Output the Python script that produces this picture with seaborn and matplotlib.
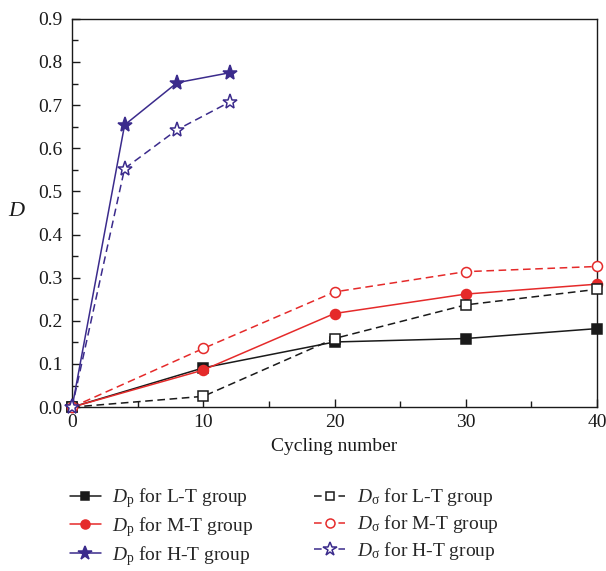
import matplotlib
matplotlib.use("Agg")
import matplotlib.pyplot as plt
import seaborn as sns
import pandas as pd
from matplotlib.ticker import MultipleLocator

# ---- data ----
x_LT = [0, 10, 20, 30, 40]
dp_LT = [0.0, 0.091, 0.151, 0.159, 0.182]
ds_LT = [0.0, 0.025, 0.159, 0.237, 0.273]
x_MT = [0, 10, 20, 30, 40]
dp_MT = [0.0, 0.086, 0.217, 0.262, 0.285]
ds_MT = [0.0, 0.136, 0.267, 0.314, 0.326]
x_HT = [0, 4, 8, 12]
dp_HT = [0.0, 0.654, 0.752, 0.775]
ds_HT = [0.0, 0.553, 0.643, 0.707]
xticks = [0, 10, 20, 30, 40]
yticks = [0.0, 0.1, 0.2, 0.3, 0.4, 0.5, 0.6, 0.7, 0.8, 0.9]

sns.set_theme(style="ticks")
plt.rcParams['font.family'] = ['Liberation Serif', 'DejaVu Serif']
plt.rcParams['mathtext.fontset'] = 'custom'
plt.rcParams['mathtext.rm'] = 'Liberation Serif'
plt.rcParams['mathtext.it'] = 'Liberation Serif:italic'
plt.rcParams['mathtext.bf'] = 'Liberation Serif:bold'

BLACK = '#1a1a1a'
RED = '#e52a2a'
NAVY = '#3b2b8c'

fig = plt.figure(figsize=(6.06, 5.71), dpi=100)
ax = fig.add_axes([0.119, 0.287, 0.866, 0.680])

series = [
    (x_LT, dp_LT, BLACK, 's', '-', True, 6.5, r'$D_\mathrm{p}$ for L-T group'),
    (x_MT, dp_MT, RED, 'o', '-', True, 7.2, r'$D_\mathrm{p}$ for M-T group'),
    (x_HT, dp_HT, NAVY, '*', '-', True, 11.0, r'$D_\mathrm{p}$ for H-T group'),
    (x_LT, ds_LT, BLACK, 's', '--', False, 6.5, r'$D_\mathrm{σ}$ for L-T group'),
    (x_MT, ds_MT, RED, 'o', '--', False, 7.2, r'$D_\mathrm{σ}$ for M-T group'),
    (x_HT, ds_HT, NAVY, '*', '--', False, 11.0, r'$D_\mathrm{σ}$ for H-T group'),
]
draw_order = [0, 3, 1, 4, 2, 5]
handles = {}
for i in draw_order:
    xs, ys, c, m, ls, filled, ms, lab = series[i]
    df = pd.DataFrame({'x': xs, 'y': ys})
    n_before = len(ax.lines)
    sns.lineplot(data=df, x='x', y='y', ax=ax, color=c, marker=m, linestyle=ls,
                 markersize=ms, markerfacecolor=(c if filled else 'white'),
                 markeredgecolor=c, markeredgewidth=1.1, linewidth=1.1,
                 label=lab, legend=False, clip_on=False, zorder=3 + i)
    handles[i] = ax.lines[n_before]

for ln in ax.lines:
    if ln.get_linestyle() == '--':
        ln.set_dashes((5, 3))

ax.set_xlim(0, 40)
ax.set_ylim(0, 0.9)
ax.set_xticks(xticks)
ax.set_yticks(yticks)
ax.set_yticklabels([f"{v:.1f}" for v in yticks])
ax.xaxis.set_minor_locator(MultipleLocator(5))
ax.yaxis.set_minor_locator(MultipleLocator(0.05))
ax.tick_params(which='both', direction='in', top=False, right=False,
               labelsize=14, colors=BLACK, width=1.0)
ax.tick_params(which='major', length=6)
ax.tick_params(which='minor', length=4)
ax.tick_params(axis='y', which='major', pad=7)
ax.tick_params(axis='x', which='major', pad=5)
for sp in ax.spines.values():
    sp.set_visible(True)
    sp.set_color(BLACK)
    sp.set_linewidth(1.0)

ax.set_xlabel('Cycling number', fontsize=14, color=BLACK, labelpad=5)
ax.set_ylabel(r'$D$', fontsize=16, rotation=0, color=BLACK, va='center')
ax.yaxis.set_label_coords(-0.105, 0.503)

order = [0, 1, 2, 3, 4, 5]
fig.legend([handles[i] for i in order], [series[i][7] for i in order],
           ncol=2, loc='upper left', bbox_to_anchor=(0.102, 0.162),
           frameon=False, fontsize=14, handlelength=1.6, handletextpad=0.6,
           columnspacing=3.1, labelspacing=0.25, borderaxespad=0,
           markerscale=0.9)

fig.savefig('out.png', dpi=100)
